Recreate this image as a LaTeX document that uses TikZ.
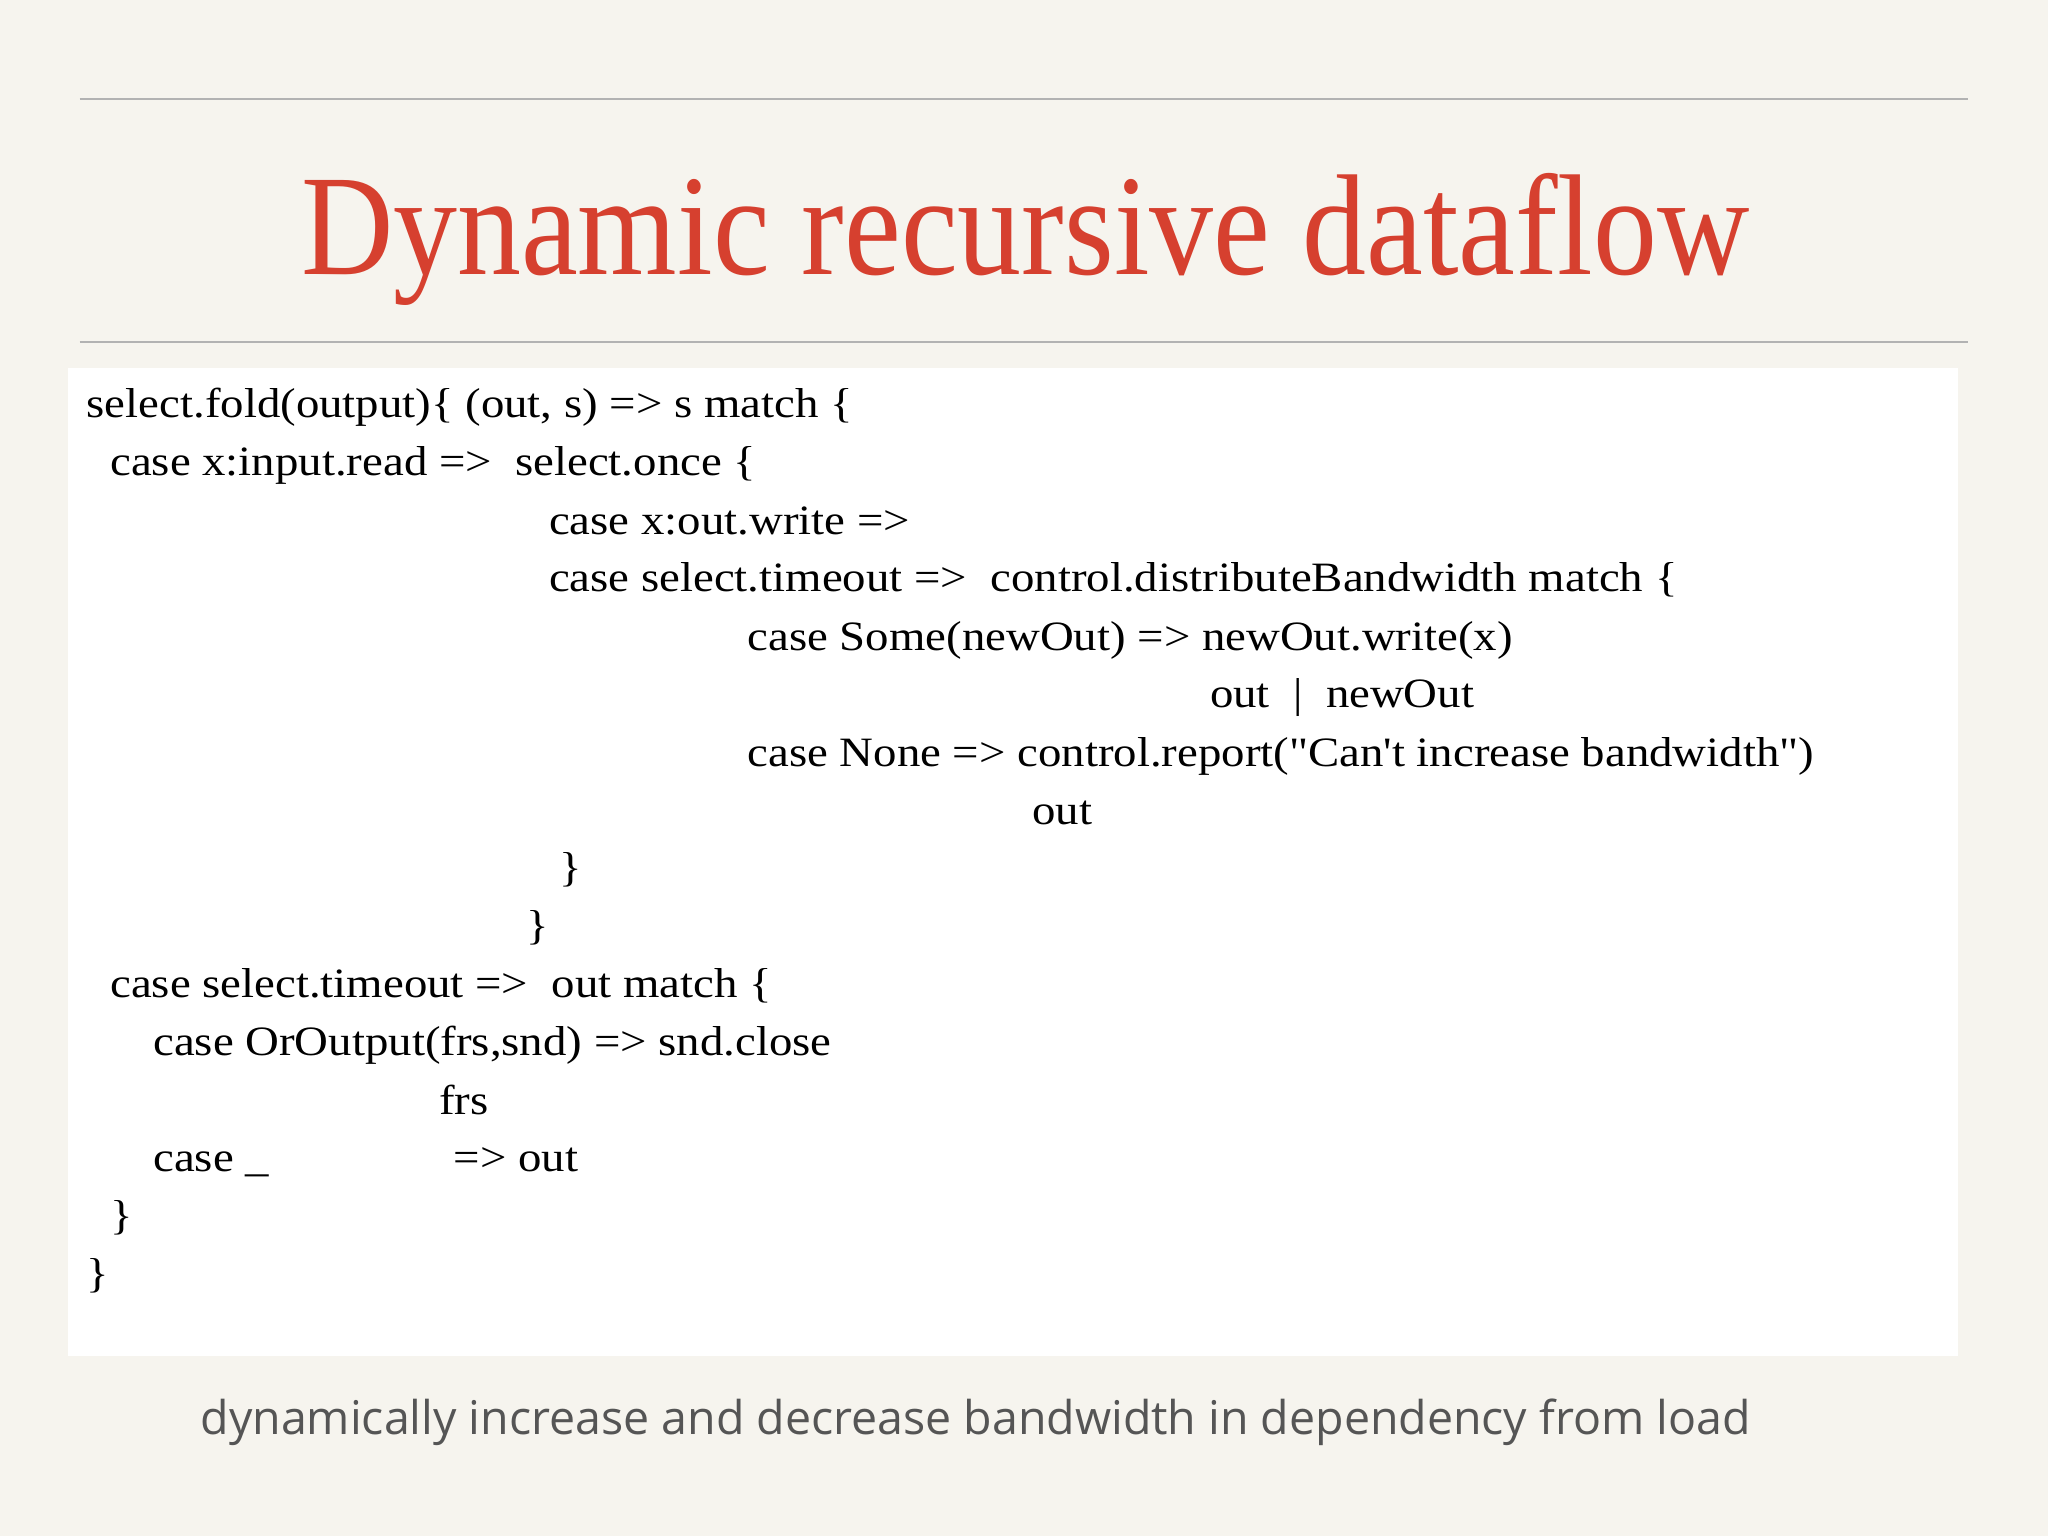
\documentclass[tikz,border=0pt]{standalone}
\usepackage{fontspec}
\setmainfont{Liberation Serif}
\newfontfamily\codefont[FakeStretch=1.12]{Liberation Serif}
\newfontfamily\titlefont[FakeStretch=0.89]{Liberation Serif}
\newfontfamily\subfont{Open Sans}
\begin{document}
\begin{tikzpicture}[x=0.5pt,y=0.5pt,
  code/.style={anchor=base west,inner sep=0pt,font=\codefont\fontsize{16}{18}\selectfont,text=black}]
\useasboundingbox (0,0) rectangle (1568,1176);
\fill[color={rgb,255:red,246;green,244;blue,238}] (0,0) rectangle (1568,1176);
\draw[gray!60,line width=0.6pt] (61,1100) -- (1507,1100);
\draw[gray!60,line width=0.6pt] (61,914) -- (1507,914);
\node[anchor=base,inner sep=0pt,font=\titlefont\fontsize{55}{60}\selectfont,text={rgb,255:red,214;green,64;blue,47}] (title) at (785,966) {Dynamic recursive dataflow};
\fill[white] (52,138) rectangle (1499,894);
\node[code] (l1) at (66,856) {select.fold(output)\{ (out, s) => s match \{};
\node[code] (l2) at (84,812) {case x:input.read =>\ \ select.once \{};
\node[code] (l3) at (420,767) {case x:out.write =>};
\node[code] (l4) at (420,723) {case select.timeout =>\ \ control.distributeBandwidth match \{};
\node[code] (l5) at (572,678) {case Some(newOut) => newOut.write(x)};
\node[code] (l6) at (926,634) {out\ \ |\ \ newOut};
\node[code] (l7) at (572,589) {case None => control.report(\symbol{34}Can\symbol{39}t increase bandwidth\symbol{34})};
\node[code] (l8) at (790,545) {out};
\node[code] (l9) at (428,501) {\}};
\node[code] (l10) at (403,457) {\}};
\node[code] (l11) at (84,412) {case select.timeout =>\ \ out match \{};
\node[code] (l12) at (117,368) {case OrOutput(frs,snd) => snd.close};
\node[code] (l13) at (336,323) {frs};
\node[code] (l14) at (117,279) {case \_};
\node[code] (l14b) at (347,279) {=> out};
\node[code] (l15) at (84,235) {\}};
\node[code] (l16) at (66,190) {\}};
\node[anchor=base,inner sep=0pt,font=\subfont\fontsize{17.8}{20}\selectfont,text={rgb,255:red,85;green,85;blue,85}] (sub) at (747,78) {dynamically increase and decrease bandwidth in dependency from load};
\end{tikzpicture}
\end{document}
